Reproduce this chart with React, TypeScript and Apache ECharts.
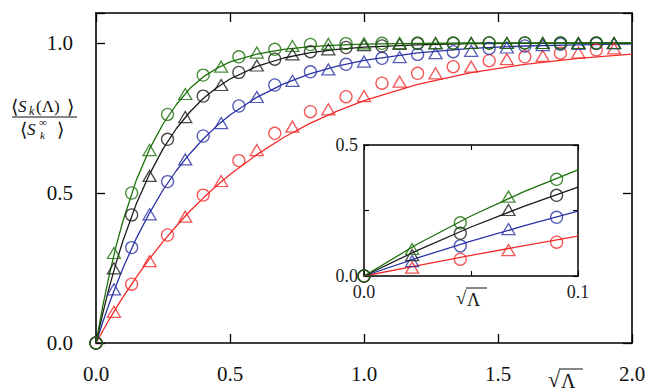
import React, { useEffect, useRef } from 'react';
import * as echarts from 'echarts';

// main panel: sqrt(Lambda) sample points (circles at even index, triangles at odd index)
const sqrtLambda = [0, 0.067, 0.133, 0.2, 0.267, 0.333, 0.4, 0.467, 0.533, 0.6, 0.667, 0.733, 0.8, 0.867, 0.933, 1.0, 1.067, 1.133, 1.2, 1.267, 1.333, 1.4, 1.467, 1.533, 1.6, 1.667, 1.733, 1.8, 1.867, 1.933];
const greenData = [0, 0.30, 0.50, 0.643, 0.762, 0.83, 0.893, 0.921, 0.954, 0.968, 0.979, 0.99, 0.995, 0.997, 0.998, 0.999, 0.999, 1.0, 1.0, 1.0, 1.0, 1.0, 1.0, 1.0, 1.0, 1.0, 1.0, 1.0, 1.0, 1.0];
const blackData = [0, 0.249, 0.427, 0.557, 0.679, 0.753, 0.823, 0.86, 0.902, 0.925, 0.946, 0.962, 0.971, 0.979, 0.985, 0.993, 0.99, 0.997, 0.998, 0.999, 0.999, 1.0, 1.0, 1.0, 1.0, 1.0, 1.0, 1.0, 1.0, 1.0];
const blueData = [0, 0.179, 0.318, 0.429, 0.538, 0.612, 0.69, 0.733, 0.79, 0.82, 0.86, 0.874, 0.904, 0.912, 0.929, 0.938, 0.949, 0.953, 0.962, 0.966, 0.971, 0.974, 0.982, 0.985, 0.99, 0.993, 0.996, 0.997, 0.998, 0.999];
const redData = [0, 0.104, 0.196, 0.273, 0.36, 0.421, 0.493, 0.54, 0.608, 0.643, 0.699, 0.721, 0.771, 0.779, 0.821, 0.823, 0.866, 0.871, 0.899, 0.899, 0.921, 0.921, 0.941, 0.946, 0.954, 0.957, 0.966, 0.968, 0.977, 0.982];

// fitted curves
const fitX = [0, 0.025, 0.05, 0.075, 0.1, 0.15, 0.2, 0.25, 0.3, 0.35, 0.4, 0.45, 0.5, 0.6, 0.7, 0.8, 0.9, 1.0, 1.2, 1.4, 1.6, 1.8, 2.0];
const greenFit = [0, 0.122, 0.229, 0.323, 0.405, 0.542, 0.647, 0.73, 0.795, 0.848, 0.887, 0.915, 0.937, 0.963, 0.979, 0.988, 0.993, 0.996, 0.999, 1.0, 1.0, 1.0, 1.0];
const blackFit = [0, 0.098, 0.187, 0.267, 0.339, 0.463, 0.563, 0.647, 0.715, 0.77, 0.815, 0.851, 0.88, 0.922, 0.95, 0.968, 0.979, 0.986, 0.994, 0.998, 0.999, 1.0, 1.0];
const blueFit = [0, 0.069, 0.133, 0.192, 0.248, 0.348, 0.434, 0.51, 0.575, 0.631, 0.68, 0.723, 0.76, 0.819, 0.864, 0.898, 0.923, 0.942, 0.967, 0.982, 0.99, 0.994, 0.997];
const redFit = [0, 0.04, 0.079, 0.116, 0.152, 0.219, 0.281, 0.338, 0.39, 0.439, 0.483, 0.524, 0.562, 0.628, 0.685, 0.733, 0.773, 0.808, 0.862, 0.901, 0.929, 0.949, 0.963];

// inset panel
const insetX = [0, 0.0225, 0.045, 0.0675, 0.09];
const insetGreen = [0, 0.103, 0.203, 0.303, 0.369];
const insetBlack = [0, 0.08, 0.163, 0.252, 0.308];
const insetBlue = [0, 0.057, 0.115, 0.179, 0.224];
const insetRed = [0, 0.032, 0.064, 0.099, 0.129];
const insetFitX = [0, 0.025, 0.05, 0.075, 0.1];
const insetGreenFit = [0, 0.122, 0.229, 0.323, 0.405];
const insetBlackFit = [0, 0.098, 0.187, 0.267, 0.339];
const insetBlueFit = [0, 0.069, 0.133, 0.192, 0.248];
const insetRedFit = [0, 0.04, 0.079, 0.116, 0.152];

const mainXTicks = [0, 0.5, 1.0, 1.5, 2.0];
const mainYTicks = [0, 0.5, 1.0];
const insetXTicks = [0, 0.1];
const insetYTicks = [0, 0.5];

const COLORS = { red: '#f22a2a', blue: '#2b32a6', black: '#1a1a1a', green: '#1c700a' };
const SERIF = "'Liberation Serif', 'DejaVu Serif', serif";

const has = (arr: number[], v: number) => arr.some((t) => Math.abs(t - v) < 1e-6);

function fitLine(xs: number[], ys: number[], color: string, axis: number) {
  return {
    type: 'line',
    xAxisIndex: axis,
    yAxisIndex: axis,
    data: xs.map((x, i) => [x, ys[i]]),
    symbol: 'none',
    showSymbol: false,
    lineStyle: { color, width: 1.3 },
    silent: true,
    z: 3,
  };
}

function markers(xs: number[], ys: number[], color: string, axis: number, parity: number) {
  const data = xs.map((x, i) => [x, ys[i]]).filter((_, i) => i % 2 === parity);
  const isCircle = parity === 0;
  return {
    type: 'scatter',
    xAxisIndex: axis,
    yAxisIndex: axis,
    data,
    symbol: isCircle ? 'circle' : 'triangle',
    symbolSize: isCircle ? 12 : [13, 11],
    itemStyle: { color: 'rgba(0,0,0,0)', borderColor: color, borderWidth: 1.3 },
    clip: false,
    silent: true,
    z: 4,
  };
}

function axisCommon(extra: any) {
  return {
    type: 'value',
    splitLine: { show: false },
    axisLine: { show: true, onZero: false, lineStyle: { color: '#000', width: 1.6 } },
    axisTick: { show: true, inside: true, length: 9, lineStyle: { color: '#000', width: 1.3 } },
    ...extra,
  };
}

export default function App() {
  const ref = useRef<HTMLDivElement>(null);
  useEffect(() => {
    if (!ref.current) return;
    const chart = echarts.init(ref.current, undefined, { renderer: 'svg' });
    const series: any[] = [];
    const groups: [number[], number[], number[], number[], string][] = [
      [redData, redFit, insetRed, insetRedFit, COLORS.red],
      [blueData, blueFit, insetBlue, insetBlueFit, COLORS.blue],
      [blackData, blackFit, insetBlack, insetBlackFit, COLORS.black],
      [greenData, greenFit, insetGreen, insetGreenFit, COLORS.green],
    ];
    groups.forEach(([d, f, idat, ifit, c]) => {
      series.push(fitLine(fitX, f, c, 0));
      series.push(markers(sqrtLambda, d, c, 0, 0));
      series.push(markers(sqrtLambda, d, c, 0, 1));
      series.push(fitLine(insetFitX, ifit, c, 2));
      series.push(markers(insetX, idat, c, 2, 0));
      series.push(markers(insetX, idat, c, 2, 1));
    });

    const mainLabel = { fontFamily: SERIF, fontSize: 21, color: '#111' };
    const insetLabel = { fontFamily: SERIF, fontSize: 18, color: '#222' };

    const txt = (text: string, x: number, y: number, size: number, italic = false, align = 'left') => ({
      type: 'text',
      x,
      y,
      z: 10,
      style: {
        text,
        fill: '#111',
        fontFamily: SERIF,
        fontSize: size,
        fontStyle: italic ? 'italic' : 'normal',
        align,
        verticalAlign: 'middle',
      },
    });

    chart.setOption({
      animation: false,
      backgroundColor: '#fff',
      grid: [
        { left: 96, right: 29, top: 13, bottom: 49, containLabel: false },
        { left: 364, right: 83, top: 145, bottom: 116, containLabel: false, show: true, backgroundColor: '#fff', borderWidth: 0 },
      ],
      xAxis: [
        axisCommon({
          gridIndex: 0, min: 0, max: 2, interval: 0.5, position: 'bottom',
          axisLabel: { ...mainLabel, margin: 20, formatter: (v: number) => (has(mainXTicks, v) ? v.toFixed(1) : '') },
        }),
        axisCommon({ gridIndex: 0, min: 0, max: 2, interval: 0.5, position: 'top', axisLabel: { show: false } }),
        axisCommon({
          gridIndex: 1, min: 0, max: 0.1, interval: 0.05, position: 'bottom',
          axisLine: { show: true, onZero: false, lineStyle: { color: '#000', width: 1.5 } },
          axisTick: { show: true, inside: true, length: 5, lineStyle: { color: '#000', width: 1.1 } },
          axisLabel: { ...insetLabel, margin: 7, formatter: (v: number) => (has(insetXTicks, v) ? v.toFixed(1) : '') },
        }),
        axisCommon({
          gridIndex: 1, min: 0, max: 0.1, interval: 0.05, position: 'top',
          axisLine: { show: true, onZero: false, lineStyle: { color: '#000', width: 1.5 } },
          axisTick: { show: true, inside: true, length: 5, lineStyle: { color: '#000', width: 1.1 } },
          axisLabel: { show: false },
        }),
      ],
      yAxis: [
        axisCommon({
          gridIndex: 0, min: 0, max: 1.1, interval: 0.5, position: 'left',
          axisLabel: { ...mainLabel, margin: 23, formatter: (v: number) => (has(mainYTicks, v) ? v.toFixed(1) : '') },
        }),
        axisCommon({ gridIndex: 0, min: 0, max: 1.1, interval: 0.5, position: 'right', axisLabel: { show: false } }),
        axisCommon({
          gridIndex: 1, min: 0, max: 0.5, interval: 0.25, position: 'left',
          axisLine: { show: true, onZero: false, lineStyle: { color: '#000', width: 1.5 } },
          axisTick: { show: true, inside: true, length: 5, lineStyle: { color: '#000', width: 1.1 } },
          axisLabel: { ...insetLabel, margin: 6, formatter: (v: number) => (has(insetYTicks, v) ? v.toFixed(1) : '') },
        }),
        axisCommon({
          gridIndex: 1, min: 0, max: 0.5, interval: 0.25, position: 'right',
          axisLine: { show: true, onZero: false, lineStyle: { color: '#000', width: 1.5 } },
          axisTick: { show: true, inside: true, length: 5, lineStyle: { color: '#000', width: 1.1 } },
          axisLabel: { show: false },
        }),
      ],
      series,
      graphic: [
        // y-axis label: <S_k(Lambda)> / <S_k^inf>
        txt('⟨', 11, 106, 19),
        txt('S', 18, 106, 17, true),
        txt('k', 29, 111, 12, true),
        txt('(Λ)', 36, 106, 17),
        txt('⟩', 67, 106, 19),
        { type: 'line', z: 10, shape: { x1: 12, y1: 117, x2: 77, y2: 117 }, style: { stroke: '#111', lineWidth: 1 } },
        txt('⟨', 20, 129, 19),
        txt('S', 27, 129, 17, true),
        txt('∞', 39, 122, 11),
        txt('k', 40, 135, 11, true),
        txt('⟩', 57, 129, 19),
        // main x-axis name sqrt(Lambda)
        txt('√', 548, 379, 22),
        txt('Λ', 561, 381, 20),
        { type: 'line', z: 10, shape: { x1: 559, y1: 369, x2: 583, y2: 369 }, style: { stroke: '#111', lineWidth: 1 } },
        // inset x-axis name
        txt('√', 456, 297, 19),
        txt('Λ', 467, 300, 18),
        { type: 'line', z: 10, shape: { x1: 466, y1: 288, x2: 487, y2: 288 }, style: { stroke: '#111', lineWidth: 1 } },
      ],
    });
    return () => chart.dispose();
  }, []);
  return <div ref={ref} style={{ position: 'fixed', left: 0, top: 0, width: 661, height: 392 }} />;
}
